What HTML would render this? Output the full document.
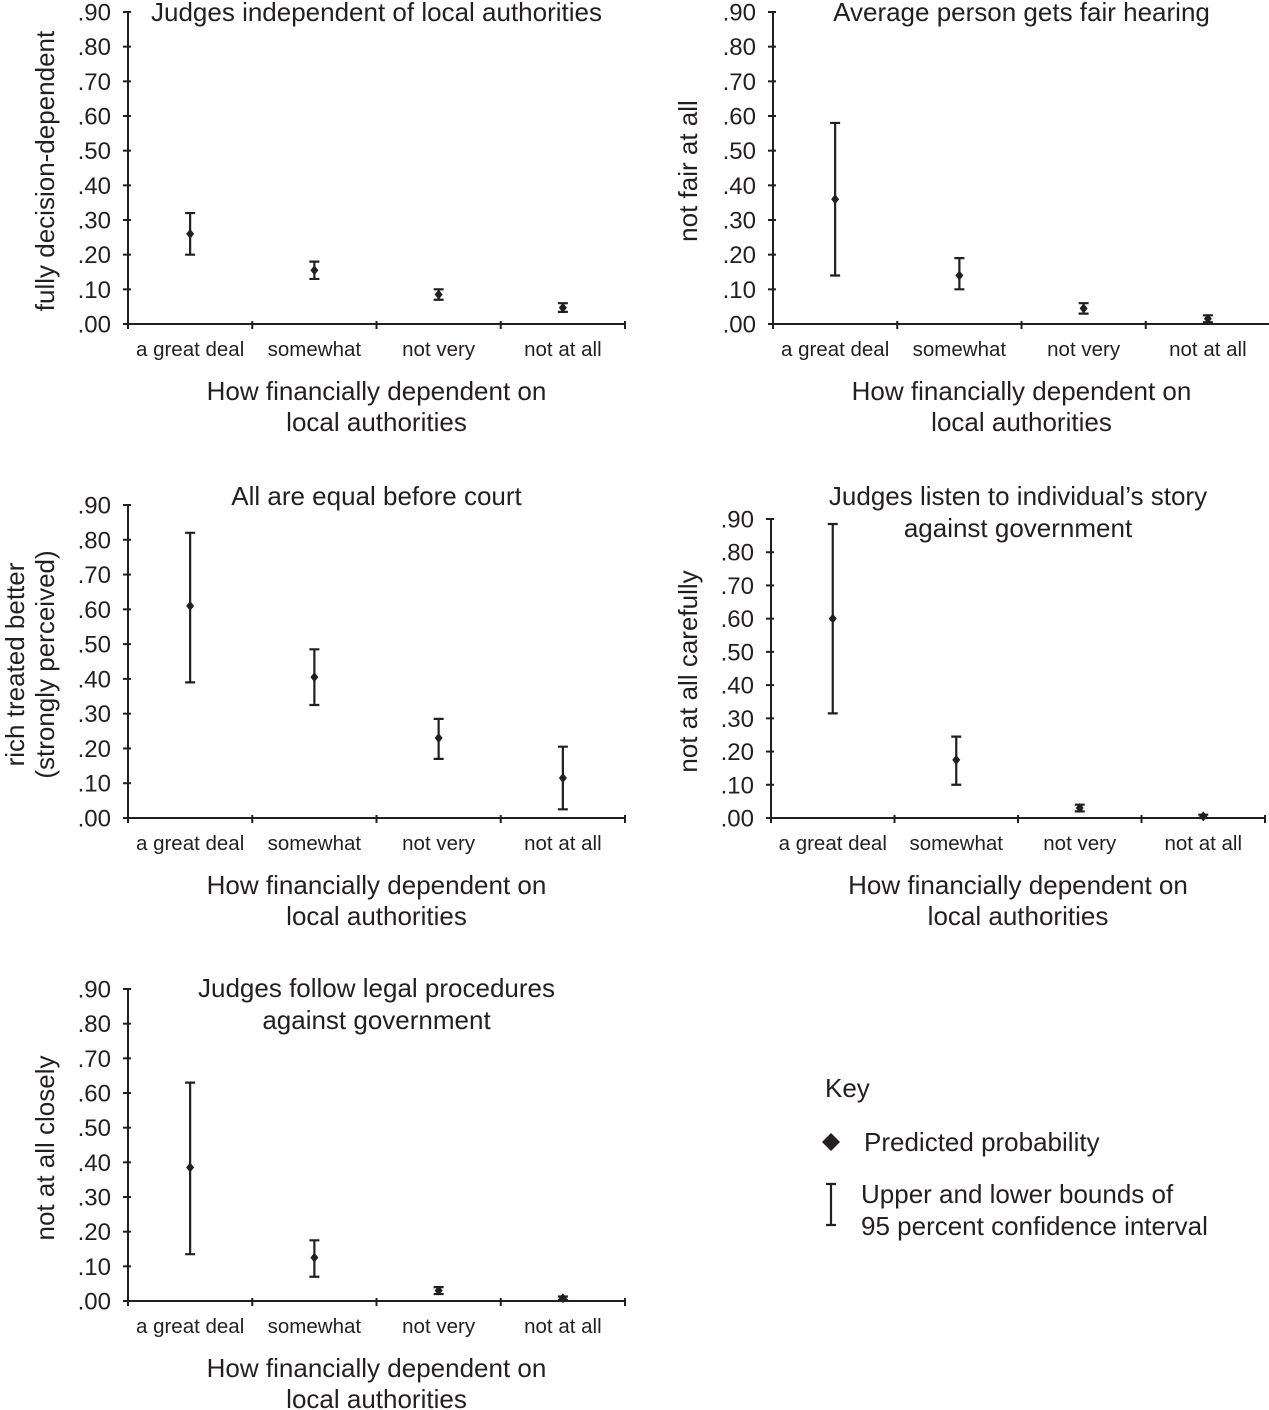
<!DOCTYPE html>
<html><head><meta charset="utf-8">
<style>
html,body{margin:0;padding:0;background:#fff;}
svg{display:block;font-family:"Liberation Sans",Arial,sans-serif;fill:#231f20;}
</style></head>
<body>
<svg id="chart" width="1269" height="1410" viewBox="0 0 1269 1410" xmlns="http://www.w3.org/2000/svg"></svg>
<script>
const categories = ["a great deal","somewhat","not very","not at all"];
const yTicks = [".00",".10",".20",".30",".40",".50",".60",".70",".80",".90"];
const p1Est = [0.26,0.155,0.085,0.047], p1Lo=[0.20,0.13,0.07,0.035], p1Hi=[0.32,0.18,0.10,0.06];
const p2Est = [0.36,0.14,0.045,0.015], p2Lo=[0.14,0.10,0.03,0.005], p2Hi=[0.58,0.19,0.06,0.025];
const p3Est = [0.61,0.405,0.23,0.115], p3Lo=[0.39,0.325,0.17,0.025], p3Hi=[0.82,0.485,0.285,0.205];
const p4Est = [0.60,0.175,0.03,0.005], p4Lo=[0.315,0.10,0.02,0.0], p4Hi=[0.885,0.245,0.04,0.01];
const p5Est = [0.385,0.125,0.03,0.008], p5Lo=[0.135,0.07,0.02,0.003], p5Hi=[0.63,0.175,0.04,0.013];

const NS="http://www.w3.org/2000/svg";
const svg=document.getElementById('chart');
function mk(tag,attrs,parent){const e=document.createElementNS(NS,tag);for(const k in attrs)e.setAttribute(k,attrs[k]);(parent||svg).appendChild(e);return e;}
function txt(s,x,y,size,anchor,parent,rot){const t=mk('text',{x:x,y:y,'font-size':size,'text-anchor':anchor||'middle'},parent);if(rot)t.setAttribute('transform',rot);t.textContent=s;return t;}

const panels=[
 {x0:128,x1:625,yTop:12,yBot:324,est:p1Est,lo:p1Lo,hi:p1Hi,title:["Judges independent of local authorities"],titleY:21,yl:["fully decision-dependent"],ylX:[54],name:'panel-judges-independent'},
 {x0:773,x1:1270,yTop:12,yBot:324,est:p2Est,lo:p2Lo,hi:p2Hi,title:["Average person gets fair hearing"],titleY:21,yl:["not fair at all"],ylX:[697],name:'panel-fair-hearing'},
 {x0:128,x1:625,yTop:505,yBot:818,est:p3Est,lo:p3Lo,hi:p3Hi,title:["All are equal before court"],titleY:505,yl:["rich treated better","(strongly perceived)"],ylX:[24,54],name:'panel-equal-before-court'},
 {x0:771,x1:1265,yTop:519,yBot:818,est:p4Est,lo:p4Lo,hi:p4Hi,title:["Judges listen to individual\u2019s story","against government"],titleY:505,yl:["not at all carefully"],ylX:[697],name:'panel-judges-listen'},
 {x0:128,x1:625,yTop:989,yBot:1301,est:p5Est,lo:p5Lo,hi:p5Hi,title:["Judges follow legal procedures","against government"],titleY:997,yl:["not at all closely"],ylX:[54],name:'panel-legal-procedures'}
];

panels.forEach(p=>{
 const g=mk('g',{});
 
 
 const ys=v=>p.yBot-(v/0.9)*(p.yBot-p.yTop);
 const bw=(p.x1-p.x0)/categories.length;
 const xs=i=>p.x0+bw*(i+0.5);
 const ax=mk('line',{x1:p.x0,y1:p.yTop,x2:p.x0,y2:p.yBot,stroke:'#231f20','stroke-width':2},g);
 
 const bx=mk('line',{x1:p.x0,y1:p.yBot,x2:p.x1,y2:p.yBot,stroke:'#231f20','stroke-width':2},g);
 
 yTicks.forEach((t,i)=>{
  const y=ys(i*0.1);
  mk('line',{x1:p.x0-5,y1:y,x2:p.x0+3,y2:y,stroke:'#231f20','stroke-width':2},g);
  const l=txt(t,p.x0-17,y+8.5,24,'end',g);
  
 });
 for(let i=0;i<=categories.length;i++){const x=p.x0+bw*i;mk('line',{x1:x,y1:p.yBot-3,x2:x,y2:p.yBot+5,stroke:'#231f20','stroke-width':2},g);}
 categories.forEach((c,i)=>{
  const l=txt(c,xs(i),p.yBot+32,20.5,'middle',g);
  
  const x=xs(i),yl=ys(p.lo[i]),yh=ys(p.hi[i]),ye=ys(p.est[i]);
  const eb=mk('path',{d:`M${x},${yh}V${yl}M${x-5},${yh}H${x+5}M${x-5},${yl}H${x+5}`,stroke:'#231f20','stroke-width':2.2,fill:'none'},g);
  
  const d=mk('path',{d:`M${x},${ye-5}L${x+4},${ye}L${x},${ye+5}L${x-4},${ye}Z`,fill:'#231f20'},g);
  
 });
 const cx=(p.x0+p.x1)/2;
 p.title.forEach((t,i)=>{const l=txt(t,cx,p.titleY+i*32,26,'middle',g);});
 ["How financially dependent on","local authorities"].forEach((t,i)=>{const l=txt(t,cx,p.yBot+76+i*31,26,'middle',g);});
 const my=(p.yTop+p.yBot)/2+3;
 p.yl.forEach((t,i)=>{const x=p.ylX[i];const l=txt(t,x,my,26,'middle',g,`rotate(-90 ${x} ${my})`);});
});

// Key
const k=mk('g',{});


let l=txt('Key',825,1097,26,'start',k);
const kd=mk('path',{d:'M831,1133L840,1142L831,1151L822,1142Z',fill:'#231f20'},k);

l=txt('Predicted probability',864,1151,26,'start',k);
const ki=mk('path',{d:'M831,1184V1225M826,1184H836M826,1225H836',stroke:'#231f20','stroke-width':2.2,fill:'none'},k);

l=txt('Upper and lower bounds of',861,1203,26,'start',k);
l=txt('95 percent confidence interval',861,1235,26,'start',k);
</script>
</body></html>
